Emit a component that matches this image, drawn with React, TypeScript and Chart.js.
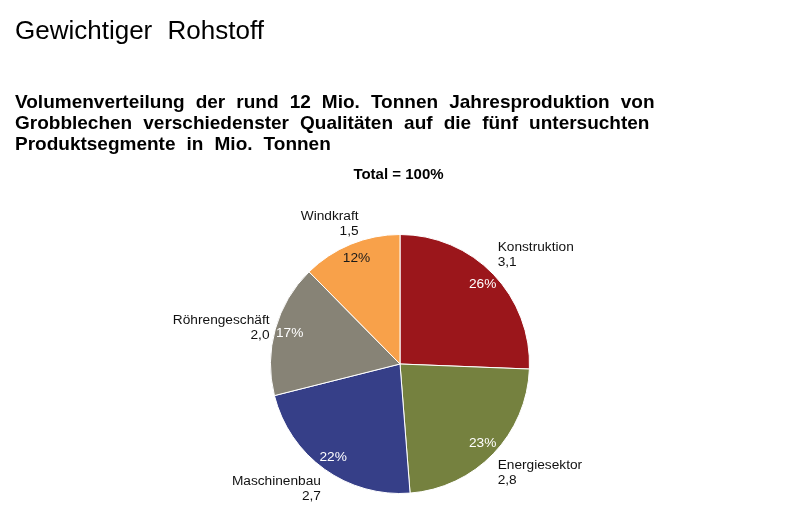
import { useEffect, useRef } from "react";
import { Chart, registerables } from "chart.js";

Chart.register(...registerables);

const segments = ["Konstruktion", "Energiesektor", "Maschinenbau", "Röhrengeschäft", "Windkraft"];
const volumes = [3.1, 2.8, 2.7, 2.0, 1.5];
const colors = ["#9B161B", "#75813F", "#363F88", "#878376", "#F8A14A"];
const percentColors = ["#ffffff", "#ffffff", "#ffffff", "#ffffff", "#1a1a1a"];

const titleText = "Gewichtiger Rohstoff";
const subtitleLines = [
  "Volumenverteilung der rund 12 Mio. Tonnen Jahresproduktion von",
  "Grobblechen verschiedenster Qualitäten auf die fünf untersuchten",
  "Produktsegmente in Mio. Tonnen",
];
const totalText = "Total = 100%";

const FONT = "'Liberation Sans', Arial, Helvetica, sans-serif";

const labelPlugin = {
  id: "pieLabels",
  afterDatasetsDraw(chart: any) {
    const ctx = chart.ctx;
    const meta = chart.getDatasetMeta(0);
    const total = volumes.reduce((a, b) => a + b, 0);
    ctx.save();
    ctx.font = `13.7px ${FONT}`;
    meta.data.forEach((arc: any, i: number) => {
      const { x, y, startAngle, endAngle, outerRadius } = arc.getProps(
        ["x", "y", "startAngle", "endAngle", "outerRadius"],
        true
      );
      const mid = (startAngle + endAngle) / 2;
      const cos = Math.cos(mid);
      const sin = Math.sin(mid);
      const pct = Math.round((volumes[i] / total) * 100) + "%";
      const pr = outerRadius * 0.885;
      ctx.fillStyle = percentColors[i];
      ctx.textAlign = "center";
      ctx.textBaseline = "middle";
      ctx.fillText(pct, x + pr * cos, y + pr * sin);

      const lr = outerRadius + 6;
      let ax = x + lr * cos;
      const ay = y + lr * sin;
      const lineH = 15;
      let top: number;
      if (sin < -0.5) top = ay - 2 * lineH;
      else if (sin > 0.5) top = ay;
      else top = ay - lineH;
      // labels near the top of the pie sit a little closer to the centre line
      if (sin < -0.85) ax += cos < 0 ? 10 : -10;
      ctx.fillStyle = "#111111";
      ctx.textAlign = cos >= 0 ? "left" : "right";
      ctx.fillText(segments[i], ax, top + lineH / 2);
      ctx.fillText(volumes[i].toFixed(1).replace(".", ","), ax, top + lineH * 1.5);
    });
    ctx.restore();
  },
};

export default function App() {
  const canvasRef = useRef<HTMLCanvasElement | null>(null);

  useEffect(() => {
    if (!canvasRef.current) return;
    const chart = new Chart(canvasRef.current, {
      type: "pie",
      data: {
        labels: segments,
        datasets: [
          {
            data: volumes,
            backgroundColor: colors,
            borderColor: "#ffffff",
            borderWidth: 1,
          },
        ],
      },
      options: {
        responsive: false,
        animation: false,
        devicePixelRatio: 1,
        layout: { padding: { left: 270, right: 270, top: 234, bottom: 30 } },
        plugins: {
          legend: { display: false },
          tooltip: { enabled: false },
          title: { display: false },
        },
      },
      plugins: [labelPlugin],
    });
    return () => chart.destroy();
  }, []);

  const textBase: any = {
    position: "absolute",
    left: 15,
    whiteSpace: "nowrap",
    color: "#000",
    fontFamily: FONT,
    lineHeight: 1,
    margin: 0,
  };

  return (
    <div
      style={{
        position: "absolute",
        left: 0,
        top: 0,
        width: 800,
        height: 524,
        background: "#ffffff",
        overflow: "hidden",
      }}
    >
      <canvas
        ref={canvasRef}
        width={800}
        height={524}
        style={{ position: "absolute", left: 0, top: 0, width: 800, height: 524 }}
      />
      <div style={{ ...textBase, top: 17, fontSize: 26, wordSpacing: 8 }}>{titleText}</div>
      {subtitleLines.map((line, i) => (
        <div
          key={i}
          style={{ ...textBase, top: 92 + i * 21, fontSize: 19, fontWeight: "bold", wordSpacing: 5.8 }}
        >
          {line}
        </div>
      ))}
      <div
        style={{
          ...textBase,
          left: 0,
          width: 797,
          textAlign: "center",
          top: 166,
          fontSize: 15,
          fontWeight: "bold",
        }}
      >
        {totalText}
      </div>
    </div>
  );
}
